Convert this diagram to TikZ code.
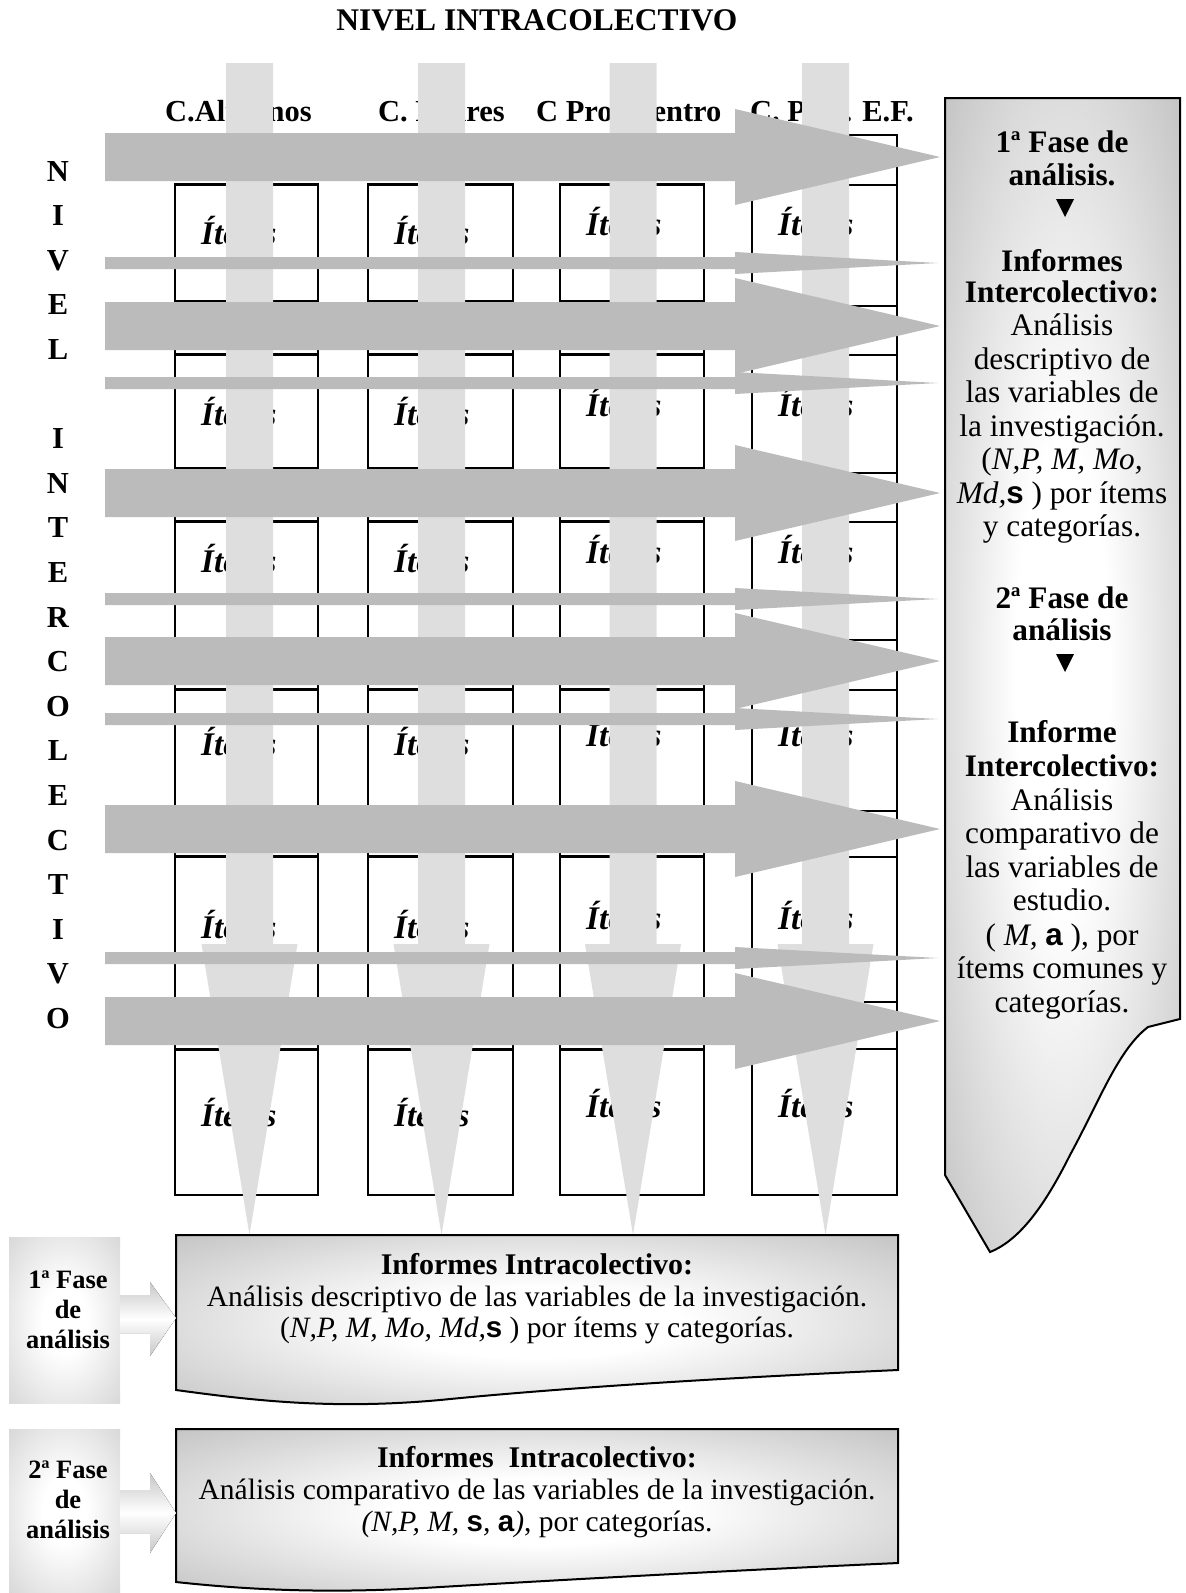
\documentclass[tikz,border=0pt]{standalone}
\usepackage{fontspec}
\setmainfont{Liberation Serif}
\setsansfont{Liberation Sans}
\newcommand{\sgm}[1]{{\sffamily\bfseries #1}}
\pgfdeclareradialshading{panelshade}{\pgfpoint{0bp}{0bp}}{color(0bp)=(white); color(10bp)=(white); color(50bp)=(black!36); color(75bp)=(black!36)}
\pgfdeclareradialshading{labelshade}{\pgfpoint{0bp}{0bp}}{color(0bp)=(white); color(10bp)=(white); color(50bp)=(black!24); color(75bp)=(black!24)}
\definecolor{bargray}{HTML}{DEDEDE}
\definecolor{arrowgray}{HTML}{BBBBBB}
\tikzset{
  txt/.style={inner sep=0pt, text height=21pt, text depth=7pt, font=\fontsize{31.3}{33}\selectfont},
  bold/.style={txt, font=\fontsize{30.5}{33}\selectfont\bfseries},
  small/.style={txt, font=\fontsize{29.5}{32}\selectfont},
  item/.style={txt, anchor=west, font=\fontsize{33}{35}\selectfont\bfseries\itshape},
  lbl/.style={inner sep=0pt, text height=19pt, text depth=6pt, font=\fontsize{26.5}{30}\selectfont\bfseries},
  boxline/.style={draw=black, line width=2pt},
  docbox/.style={line width=2pt, shade, shading=panelshade},
  phasearrow/.style={top color=black!22, bottom color=black!22, middle color=white},
}
\begin{document}
\begin{tikzpicture}[x=1pt, y=-1pt, >=stealth]
    \useasboundingbox (0,0) rectangle (1186,1593);
    % Title
    \node[bold, font=\fontsize{31.5}{33}\selectfont\bfseries] (title) at (537,23) {NIVEL INTRACOLECTIVO};
    % Right panel
    \draw[docbox] (945,98) -- (1180,98) -- (1180,1019) -- (1148,1027)
        .. controls (1118,1050) and (1100,1100) .. (1070,1155)
        .. controls (1045,1205) and (1020,1240) .. (990,1252) -- (945,1175) -- cycle;
    % Column headers
    \node[bold, anchor=west] (h1) at (165,114) {C.Alumnos};
    \node[bold, anchor=west] (h2) at (378,114) {C. Padres};
    \node[bold, anchor=west] (h3) at (536,114) {C Prof Centro};
    \node[bold, anchor=west] (h4) at (750,114) {C. Prof. E.F.};
    % Columns
    \foreach \l/\r in {175/318, 368/513, 560/704} {
        \draw[boxline] (\l,184) rectangle (\r,1195);
        \foreach \yy in {301,468,638,806,998}
            \draw[boxline] (\l,\yy) -- (\r,\yy);
        \foreach \yy in {184,354,521,689,856,1049}
            \draw[boxline, line width=3pt] (\l,\yy) -- (\r,\yy);
    }
    \draw[boxline] (752,135) rectangle (897,1195);
    \foreach \yy in {185,306,355,473,522,640,690,811,857,1002,1049}
        \draw[boxline] (752,\yy) -- (897,\yy);
    % Items
    \foreach \l/\c/\dd in {175/1/0, 368/2/0, 560/3/-9, 752/4/-9}
        \foreach \yy [count=\r] in {237,418,565,748,931,1119}
            \node[item] (it\c\r) at (\l+26,\yy+\dd) {Ítems};
    % Vertical bars
    \foreach \cx in {249.5,441.5,633,825.5}
        \fill[bargray] (\cx-23.5,63) -- (\cx+23.5,63) -- (\cx+23.5,944) -- (\cx+48,944)
            -- (\cx,1235) -- (\cx-48,944) -- (\cx-23.5,944) -- cycle;
    % Big arrows
    \foreach \yy in {157,326,493,661,829,1021}
        \fill[arrowgray] (105,\yy-24) -- (735,\yy-24) -- (735,\yy-48) -- (940,\yy)
            -- (735,\yy+48) -- (735,\yy+24) -- (105,\yy+24) -- cycle;
    % Thin arrows
    \foreach \yy in {263,383,599,719,958}
        \fill[arrowgray] (105,\yy-6) -- (735,\yy-6) -- (735,\yy-11) -- (938,\yy)
            -- (735,\yy+11) -- (735,\yy+6) -- (105,\yy+6) -- cycle;
    % Vertical letters
    \foreach \i/\ch in {0/N,1/I,2/V,3/E,4/L,6/I,7/N,8/T,9/E,10/R,11/C,12/O,13/L,14/E,15/C,16/T,17/I,18/V,19/O}
        \node[bold] (v\i) at (58,174+44.6*\i) {\ch};
    % Panel text
    \foreach \yy/\ptext [count=\k] in {145/{\textbf{1ª Fase de}}, 178/{\textbf{análisis.}},
        264/{\textbf{Informes}}, 295/{\textbf{Intercolectivo:}}, 328/{Análisis},
        362/{descriptivo de}, 395/{las variables de}, 429/{la investigación.},
        462/{(\textit{N,P, M, Mo,}}, 496/{\textit{Md,}\sgm{s} ) por ítems}, 529/{y categorías.},
        601/{\textbf{2ª Fase de}}, 633/{\textbf{análisis}},
        735/{\textbf{Informe}}, 769/{\textbf{Intercolectivo:}}, 803/{Análisis},
        836/{comparativo de}, 870/{las variables de}, 903/{estudio.},
        938/{( \textit{M,} \sgm{a} ), por}, 971/{ítems comunes y}, 1005/{categorías.}}
        \node[txt] (p\k) at (1062,\yy) {\ptext};
    \fill (1056,199) -- (1074,199) -- (1065,217) -- cycle;
    \fill (1056,654) -- (1074,654) -- (1065,672) -- cycle;
    % Bottom boxes
    \draw[docbox] (176,1235) -- (898,1235) -- (898,1370)
        .. controls (720,1378) and (560,1388) .. (440,1400)
        .. controls (330,1410) and (250,1400) .. (176,1390) -- cycle;
    \draw[docbox] (176,1429) -- (898,1429) -- (898,1563)
        .. controls (720,1571) and (560,1580) .. (440,1587)
        .. controls (330,1594) and (250,1590) .. (176,1582) -- cycle;
    \node[bold, font=\fontsize{30}{32}\selectfont\bfseries] (b1a) at (537,1267) {Informes Intracolectivo:};
    \node[small] (b1b) at (537,1299) {Análisis descriptivo de las variables de la investigación.};
    \node[small] (b1c) at (537,1330) {(\textit{N,P, M, Mo, Md,}\sgm{s} ) por ítems y categorías.};
    \node[bold, font=\fontsize{30}{32}\selectfont\bfseries] (b2a) at (537,1460) {Informes\ \ Intracolectivo:};
    \node[small] (b2b) at (537,1492) {Análisis comparativo de las variables de la investigación.};
    \node[small] (b2c) at (537,1524) {\textit{(N,P, M,} \sgm{s}\textit{,} \sgm{a}\textit{)}, por categorías.};
    % Phase labels
    \fill[shade, shading=labelshade] (9,1237) rectangle (120,1403);
    \fill[phasearrow] (120,1295) -- (150,1295) -- (150,1282) -- (176,1318)
        -- (150,1356) -- (150,1333) -- (120,1333) -- cycle;
    \fill[shade, shading=labelshade] (9,1429) rectangle (120,1592);
    \fill[phasearrow] (120,1490) -- (150,1490) -- (150,1473) -- (176,1513)
        -- (150,1553) -- (150,1533) -- (120,1533) -- cycle;
    \node[lbl] (f1a) at (68,1282) {1ª Fase};
    \node[lbl] (f1b) at (68,1312) {de};
    \node[lbl] (f1c) at (68,1342) {análisis};
    \node[lbl] (f2a) at (68,1472) {2ª Fase};
    \node[lbl] (f2b) at (68,1502) {de};
    \node[lbl] (f2c) at (68,1532) {análisis};
\end{tikzpicture}
\end{document}
